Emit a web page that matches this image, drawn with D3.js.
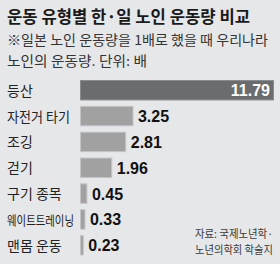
<!DOCTYPE html>
<html>
<head>
<meta charset="utf-8">
<script src="https://cdn.jsdelivr.net/npm/d3@7"></script>
<style>
  html, body { margin: 0; padding: 0; background: #e6e7e9; }
  svg { display: block; }
</style>
</head>
<body>
<svg id="chart"></svg>
<script>
const categories = ["등산", "자전거 타기", "조깅", "걷기", "구기 종목", "웨이트트레이닝", "맨몸 운동"];
const values = [11.79, 3.25, 2.81, 1.96, 0.45, 0.33, 0.23];
const valueLabels = ["11.79", "3.25", "2.81", "1.96", "0.45", "0.33", "0.23"];
const titleText = "운동 유형별 한·일 노인 운동량 비교";
const subtitleLines = ["※일본 노인 운동량을 1배로 했을 때 우리나라", "노인의 운동량. 단위: 배"];
const sourceLines = ["자료: 국제노년학·", "노년의학회 학술지"];

const width = 280, height = 264;
const korFont = "'Noto Sans CJK KR', 'Noto Sans', sans-serif";
const numFont = "'Liberation Sans Narrow', 'Arial Narrow', 'Liberation Sans', sans-serif";

const svg = d3.select("#chart")
  .attr("width", width)
  .attr("height", height);

svg.append("rect")
  .attr("width", width)
  .attr("height", height)
  .attr("fill", "#e6e7e9");

// 제목
svg.append("text")
  .attr("x", 7)
  .attr("y", 23)
  .attr("font-family", korFont)
  .attr("font-weight", "bold")
  .attr("font-size", 17)
  .attr("fill", "#1a1a1a")
  .attr("textLength", 243)
  .attr("lengthAdjust", "spacingAndGlyphs")
  .text(titleText);

// 부제 (자연 폭이 화면 안에 들어오도록 글자 크기를 맞춤)
const subW = [261, 140];
svg.selectAll("text.sub")
  .data(subtitleLines)
  .join("text")
  .attr("class", "sub")
  .attr("x", 7)
  .attr("y", (d, i) => 45 + i * 21)
  .attr("font-family", korFont)
  .attr("font-size", 13.2)
  .attr("fill", "#333")
  .attr("textLength", (d, i) => subW[i])
  .attr("lengthAdjust", "spacingAndGlyphs")
  .text(d => d);

const x = d3.scaleLinear()
  .domain([0, d3.max(values)])
  .range([80, 274]);

const y = d3.scaleBand()
  .domain(categories)
  .range([80, 255.5])
  .paddingInner(0.21)
  .paddingOuter(0);

const data = categories.map((c, i) => ({ cat: c, value: values[i], label: valueLabels[i] }));

svg.selectAll("rect.bar")
  .data(data)
  .join("rect")
  .attr("class", "bar")
  .attr("x", x(0) + 0.5)
  .attr("y", d => y(d.cat) + 0.5)
  .attr("width", d => Math.max(0, x(d.value) - x(0) - 1))
  .attr("height", y.bandwidth() - 1)
  .attr("fill", (d, i) => i === 0 ? "#6b6c6e" : "#a1a1a2")
  .attr("stroke", (d, i) => i === 0 ? "#8a8b8d" : "#c4c4c6")
  .attr("stroke-width", 1);

// 항목 이름
const catW = [null, 63, null, null, null, 67, null];
svg.selectAll("text.cat")
  .data(data)
  .join("text")
  .attr("class", "cat")
  .attr("x", 7)
  .attr("y", d => y(d.cat) + y.bandwidth() / 2 + 5.5)
  .attr("font-family", korFont)
  .attr("font-size", (d, i) => i === 5 ? 13 : 14)
  .attr("fill", "#222")
  .each(function(d, i) {
    if (catW[i]) {
      d3.select(this)
        .attr("textLength", catW[i])
        .attr("lengthAdjust", "spacingAndGlyphs");
    }
  })
  .text(d => d.cat);

// 값 표시
svg.selectAll("text.val")
  .data(data)
  .join("text")
  .attr("class", "val")
  .attr("x", (d, i) => i === 0 ? x(d.value) - 4 : x(d.value) + 4.5)
  .attr("y", d => y(d.cat) + y.bandwidth() / 2 + 6)
  .attr("text-anchor", (d, i) => i === 0 ? "end" : "start")
  .attr("font-family", numFont)
  .attr("font-weight", "bold")
  .attr("font-size", 16)
  .attr("fill", (d, i) => i === 0 ? "#fff" : "#111")
  .text(d => d.label);

// 자료 출처
svg.selectAll("text.src")
  .data(sourceLines)
  .join("text")
  .attr("class", "src")
  .attr("x", 195)
  .attr("y", (d, i) => 238 + i * 16)
  .attr("font-family", korFont)
  .attr("font-size", 11)
  .attr("fill", "#3a3a3a")
  .attr("textLength", 78)
  .attr("lengthAdjust", "spacingAndGlyphs")
  .text(d => d);
</script>
</body>
</html>
